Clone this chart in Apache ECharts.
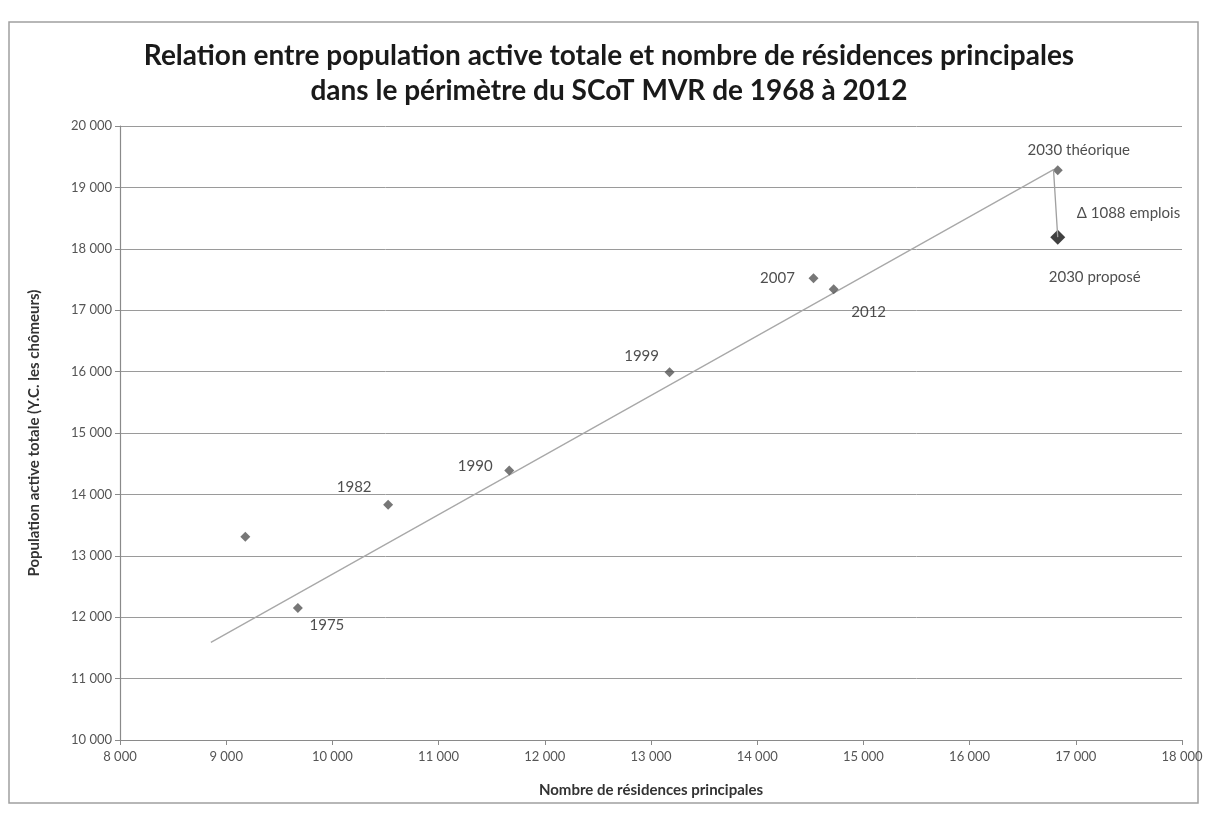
<!DOCTYPE html>
<html>
<head>
<meta charset="utf-8">
<script src="https://cdn.jsdelivr.net/npm/echarts@6/dist/echarts.min.js"></script>
<style>
  html, body { margin: 0; padding: 0; background: #fff; }
  #chart { width: 1218px; height: 816px; }
</style>
</head>
<body>
<div id="chart"></div>
<script>
// Observed census years: number of main residences vs. total active population
const years = ['1968', '1975', '1982', '1990', '1999', '2007', '2012'];
const residences = [9180, 9675, 10525, 11665, 13175, 14530, 14720];
const activePop = [13310, 12150, 13830, 14390, 15990, 17520, 17340];

// 2030 projections
const projResidences = 16830;
const projTheoretical = 19278;
const projProposed = 18190;

// Linear trend drawn through the census points up to the 2030 theoretical value
const trendX = [8856, 16790];
const trendY = [11590, 19290];

// Axis ranges
const xTicks = { min: 8000, max: 18000, step: 1000 };
const yTicks = { min: 10000, max: 20000, step: 1000 };

const FONT = 'Lato, "Open Sans", sans-serif';
const fmt = v => String(v).replace(/\B(?=(\d{3})+(?!\d))/g, ' ');

// Label placement for each year (pixel offsets from the marker)
const labelPlacement = {
  '1968': null,
  '1975': [29, 17],
  '1982': [-34, -18],
  '1990': [-34, -4],
  '1999': [-28, -16],
  '2007': [-36, 0],
  '2012': [35, 23]
};

const censusData = years.map((y, i) => {
  const off = labelPlacement[y];
  return {
    value: [residences[i], activePop[i]],
    name: y,
    label: off ? { show: true, position: 'inside', offset: off, formatter: y } : { show: false }
  };
});

const delta = projTheoretical - projProposed;

const chart = echarts.init(document.getElementById('chart'), null, { renderer: 'canvas' });

chart.setOption({
  backgroundColor: '#ffffff',
  animation: false,
  textStyle: { fontFamily: FONT },
  title: {
    text: 'Relation entre population active totale et nombre de résidences principales\ndans le périmètre du SCoT MVR de 1968 à 2012',
    left: 'center',
    top: 33,
    textStyle: { fontFamily: FONT, fontSize: 28, fontWeight: 'bold', color: '#1a1a1a', lineHeight: 35 }
  },
  graphic: [{
    type: 'rect',
    shape: { x: 9, y: 22, width: 1189, height: 781 },
    style: { fill: 'none', stroke: '#a0a0a0', lineWidth: 1.5 },
    silent: true,
    z: -1
  }],
  grid: { left: 120, top: 126, width: 1062, height: 614 },
  xAxis: {
    type: 'value',
    min: xTicks.min, max: xTicks.max, interval: xTicks.step,
    name: 'Nombre de résidences principales',
    nameLocation: 'middle',
    nameGap: 43,
    nameTextStyle: { fontFamily: FONT, fontSize: 15, fontWeight: 'bold', color: '#333' },
    axisLine: { lineStyle: { color: '#8a8a8a', width: 1.2 } },
    axisTick: { show: true, length: 5, lineStyle: { color: '#8a8a8a' } },
    axisLabel: { fontFamily: FONT, fontSize: 13, color: '#555', margin: 10, formatter: fmt },
    splitLine: { show: false }
  },
  yAxis: {
    type: 'value',
    min: yTicks.min, max: yTicks.max, interval: yTicks.step,
    name: 'Population active totale (Y.C. les chômeurs)',
    nameLocation: 'middle',
    nameGap: 78,
    nameRotate: 90,
    nameTextStyle: { fontFamily: FONT, fontSize: 15, fontWeight: 'bold', color: '#333' },
    axisLine: { show: true, lineStyle: { color: '#8a8a8a', width: 1.2 } },
    axisTick: { show: true, length: 5, lineStyle: { color: '#8a8a8a' } },
    axisLabel: { fontFamily: FONT, fontSize: 13, color: '#555', margin: 8, formatter: fmt },
    splitLine: { show: true, lineStyle: { color: '#9a9a9a', width: 1 } }
  },
  series: [
    {
      name: 'Tendance',
      type: 'line',
      data: trendX.map((x, i) => [x, trendY[i]]),
      showSymbol: false,
      symbol: ['none', 'arrow'],
      lineStyle: { color: '#a8a8a8', width: 1.3 },
      silent: true,
      z: 1,
      markLine: {
        silent: true,
        symbol: ['none', 'none'],
        lineStyle: { color: '#a0a0a0', width: 1.3, type: 'solid' },
        label: { show: false },
        data: [[
          { coord: [trendX[1], trendY[1]] },
          { coord: [projResidences, projProposed] }
        ]]
      }
    },
    {
      name: 'Recensements',
      type: 'scatter',
      symbol: 'diamond',
      symbolSize: 10,
      itemStyle: { color: '#555555' },
      label: { fontFamily: FONT, fontSize: 15, color: '#222', fontWeight: 'normal' },
      data: censusData,
      z: 3
    },
    {
      name: '2030 théorique',
      type: 'scatter',
      symbol: 'diamond',
      symbolSize: 10,
      itemStyle: { color: '#555555' },
      label: { show: true, position: 'inside', offset: [21, -20], formatter: '2030 théorique', fontFamily: FONT, fontSize: 15, color: '#222' },
      data: [[projResidences, projTheoretical]],
      z: 3
    },
    {
      name: '2030 proposé',
      type: 'scatter',
      symbol: 'diamond',
      symbolSize: 15,
      itemStyle: { color: '#111111' },
      label: {
        show: true,
        position: 'inside',
        formatter: () => '{d|Δ ' + delta + ' emplois}\n{gap|}\n{p|2030 proposé}',
        rich: {
          d: { fontFamily: FONT, fontSize: 15, color: '#222', lineHeight: 18, padding: [0, 0, 0, 28] },
          gap: { lineHeight: 46, height: 46 },
          p: { fontFamily: FONT, fontSize: 15, color: '#222', lineHeight: 18 }
        },
        align: 'left',
        offset: [-9, 8]
      },
      data: [[projResidences, projProposed]],
      z: 3
    }
  ]
});
</script>
</body>
</html>
